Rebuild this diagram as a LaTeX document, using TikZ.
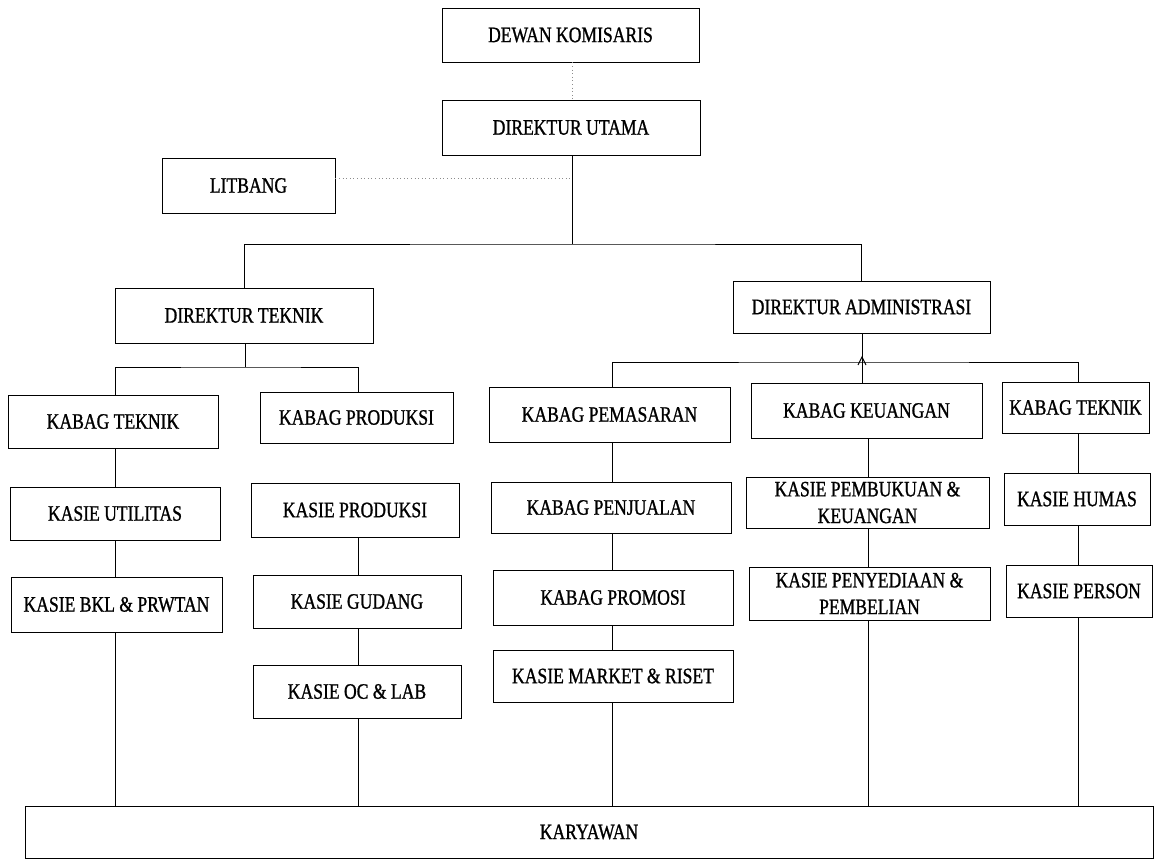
\documentclass[tikz,border=0pt]{standalone}
\usepackage{fontspec}
\setmainfont[FakeStretch=0.8, FakeBold=1]{Liberation Serif}
\usetikzlibrary{calc}

% orgbox{name}{x1}{y1}{x2}{y2}{text}: a framed box given by its corners (px)
\newcommand{\orgbox}[6]{%
  \pgfmathsetmacro{\obx}{(#2+#4)/2}%
  \pgfmathsetmacro{\oby}{(#3+#5)/2}%
  \pgfmathsetmacro{\obw}{(#4-#2)*0.75}%
  \pgfmathsetmacro{\obh}{(#5-#3)*0.75}%
  \node[orgnode, minimum width=\obw pt, minimum height=\obh pt] (#1) at (\obx,\oby) {#6};%
}

\begin{document}
\begin{tikzpicture}[x=0.75pt, y=-0.75pt,
  orgnode/.style={draw=black, line width=0.7pt, inner sep=0pt, align=center,
    font=\fontsize{16.5}{20}\selectfont},
  link/.style={draw=black, line width=0.7pt},
  staff/.style={draw=black!45, line width=0.7pt, dotted}]
\useasboundingbox (0,0) rectangle (1159,862);

% top management
\orgbox{dewan}{442}{8}{699}{62}{DEWAN KOMISARIS}
\orgbox{dirut}{442}{100}{700}{155}{DIREKTUR UTAMA}
\orgbox{litbang}{162}{158}{335}{213}{LITBANG}
\orgbox{dirtek}{115}{288}{373}{343}{DIREKTUR TEKNIK}
\orgbox{diradm}{733}{281}{990}{333}{DIREKTUR ADMINISTRASI}

% technical branch
\orgbox{kteknik}{8}{395}{218}{448}{KABAG TEKNIK}
\orgbox{kprod}{260}{392}{453}{443}{KABAG PRODUKSI}
\orgbox{kutil}{10}{487}{220}{540}{KASIE UTILITAS}
\orgbox{kbkl}{11}{577}{222}{632}{KASIE BKL \& PRWTAN}
\orgbox{ksprod}{251}{483}{459}{537}{KASIE PRODUKSI}
\orgbox{kgudang}{253}{575}{461}{628}{KASIE GUDANG}
\orgbox{koc}{253}{665}{461}{718}{KASIE OC \& LAB}

% administration branch
\orgbox{kpem}{489}{387}{730}{442}{KABAG PEMASARAN}
\orgbox{kkeu}{751}{383}{982}{438}{KABAG KEUANGAN}
\orgbox{ktek}{1002}{382}{1149}{433}{KABAG TEKNIK}
\orgbox{kpenj}{491}{482}{731}{533}{KABAG PENJUALAN}
\orgbox{kpromo}{493}{570}{733}{625}{KABAG PROMOSI}
\orgbox{kmarket}{493}{650}{733}{702}{KASIE MARKET \& RISET}
\orgbox{kbuku}{746}{477}{989}{528}{KASIE PEMBUKUAN \&\\KEUANGAN}
\orgbox{kpenyed}{749}{567}{990}{620}{KASIE PENYEDIAAN \&\\PEMBELIAN}
\orgbox{khumas}{1004}{473}{1150}{525}{KASIE HUMAS}
\orgbox{kperson}{1006}{565}{1152}{617}{KASIE PERSON}

% staff
\orgbox{karyawan}{25}{806}{1153}{858}{KARYAWAN}

% column lines and junctions
\coordinate (cu) at (572,0);
\coordinate (c1) at (115,0);
\coordinate (c2) at (358,0);
\coordinate (c3) at (612,0);
\coordinate (c4) at (868,0);
\coordinate (c5) at (1078,0);
\coordinate (j1) at (572,244);
\coordinate (j2) at (245,367);
\coordinate (j3) at (862,362);
\coordinate (lt) at (572,178);

% staff relations
\draw[staff] (dewan.south -| cu) -- (dirut.north -| cu);
\draw[staff] (litbang.east |- lt) -- (lt);

% line relations from the top
\draw[link] (dirut.south -| cu) -- (j1);
\draw[link] (dirtek.north) |- (j1) -| (diradm.north);
\draw[link] (dirtek.south -| j2) -- (j2);
\draw[link] (kteknik.north -| c1) |- (j2) -| (kprod.north -| c2);
\draw[link] (diradm.south -| j3) -- (j3);
\draw[link] (kpem.north -| c3) |- (j3) -| (ktek.north -| c5);
\draw[link] (j3) -- (kkeu.north -| j3);
\draw[link] ($(j3)+(-4,3)$) -- ($(j3)+(0,-5)$) -- ($(j3)+(4,3)$);

% columns
\draw[link] (kteknik.south -| c1) -- (kutil.north -| c1);
\draw[link] (kutil.south -| c1) -- (kbkl.north -| c1);
\draw[link] (kbkl.south -| c1) -- (karyawan.north -| c1);

\draw[link] (ksprod.south -| c2) -- (kgudang.north -| c2);
\draw[link] (kgudang.south -| c2) -- (koc.north -| c2);
\draw[link] (koc.south -| c2) -- (karyawan.north -| c2);

\draw[link] (kpem.south -| c3) -- (kpenj.north -| c3);
\draw[link] (kpenj.south -| c3) -- (kpromo.north -| c3);
\draw[link] (kpromo.south -| c3) -- (kmarket.north -| c3);
\draw[link] (kmarket.south -| c3) -- (karyawan.north -| c3);

\draw[link] (kkeu.south -| c4) -- (kbuku.north -| c4);
\draw[link] (kbuku.south -| c4) -- (kpenyed.north -| c4);
\draw[link] (kpenyed.south -| c4) -- (karyawan.north -| c4);

\draw[link] (ktek.south -| c5) -- (khumas.north -| c5);
\draw[link] (khumas.south -| c5) -- (kperson.north -| c5);
\draw[link] (kperson.south -| c5) -- (karyawan.north -| c5);
\end{tikzpicture}
\end{document}
